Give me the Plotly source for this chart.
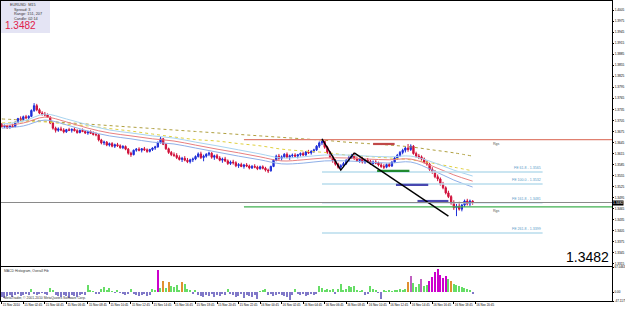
import plotly.graph_objects as go

# ---------------- data (prices in pips: 13482 -> 1.3482) ----------------
time_tick_bars = [0, 8, 16, 24, 32, 40, 48, 56, 64, 72, 80, 88, 96, 104, 112, 120, 128, 136, 144, 152, 160, 168, 176]
time_tick_labels = ["15 Nov 2010", "15 Nov 02:45", "15 Nov 04:45", "15 Nov 06:45", "15 Nov 08:45", "15 Nov 10:45",
                    "15 Nov 12:45", "15 Nov 14:45", "15 Nov 16:45", "15 Nov 18:45", "15 Nov 20:45", "15 Nov 22:45",
                    "16 Nov 00:45", "16 Nov 02:45", "16 Nov 04:45", "16 Nov 06:45", "16 Nov 08:45", "16 Nov 10:45",
                    "16 Nov 12:45", "16 Nov 14:45", "16 Nov 16:45", "16 Nov 18:45", "16 Nov 20:45"]

open_pips = [
    13695, 13688, 13690, 13685, 13690, 13688, 13700, 13710, 13707, 13715,
    13712, 13716, 13732, 13745, 13734, 13725, 13722, 13720, 13714, 13698,
    13684, 13678, 13682, 13679, 13674, 13680, 13678, 13681, 13677, 13672,
    13678, 13675, 13671, 13674, 13670, 13667, 13666, 13652, 13644, 13646,
    13638, 13642, 13635, 13639, 13636, 13631, 13634, 13627, 13616, 13612,
    13624, 13627, 13624, 13628, 13625, 13621, 13626, 13630, 13633, 13645,
    13655, 13640, 13628, 13618, 13612, 13610, 13604, 13599, 13602, 13597,
    13593, 13598, 13600, 13607, 13614, 13604, 13608, 13613, 13616, 13605,
    13609, 13603, 13597, 13600, 13595, 13588, 13592, 13590, 13582, 13585,
    13580, 13584, 13581, 13576, 13580, 13578, 13574, 13579, 13575, 13570,
    13568, 13580, 13597, 13608, 13602, 13606, 13613, 13605, 13609, 13611,
    13608, 13612, 13615, 13611, 13619, 13617, 13621, 13625, 13635, 13644,
    13648, 13632, 13618, 13606, 13596, 13586, 13578, 13582, 13588, 13596,
    13604, 13610, 13601, 13596, 13600, 13592, 13597, 13594, 13588, 13592,
    13589, 13584, 13580, 13578, 13585, 13581, 13592, 13603, 13610, 13618,
    13624, 13630, 13626, 13635, 13615, 13608, 13606, 13600, 13592, 13586,
    13572, 13566, 13552, 13546, 13532, 13522, 13508, 13498, 13480, 13468,
    13472, 13464, 13475, 13486, 13478, 13486]
high_pips = [
    13698, 13694, 13693, 13692, 13696, 13702, 13712, 13716, 13718, 13720,
    13719, 13735, 13752, 13750, 13738, 13730, 13728, 13724, 13716, 13700,
    13688, 13686, 13688, 13684, 13682, 13685, 13683, 13686, 13681, 13680,
    13683, 13679, 13677, 13678, 13675, 13672, 13668, 13655, 13650, 13649,
    13645, 13646, 13642, 13644, 13640, 13638, 13637, 13630, 13620, 13626,
    13630, 13632, 13630, 13633, 13629, 13628, 13632, 13636, 13648, 13660,
    13657, 13643, 13631, 13622, 13618, 13616, 13610, 13606, 13608, 13603,
    13601, 13604, 13610, 13618, 13620, 13612, 13616, 13620, 13619, 13612,
    13614, 13608, 13604, 13606, 13599, 13596, 13598, 13594, 13589, 13590,
    13587, 13589, 13585, 13584, 13586, 13582, 13582, 13583, 13579, 13574,
    13582, 13600, 13612, 13614, 13610, 13616, 13618, 13612, 13615, 13616,
    13614, 13618, 13620, 13622, 13625, 13624, 13628, 13638, 13648, 13655,
    13650, 13636, 13622, 13610, 13600, 13590, 13586, 13592, 13600, 13608,
    13614, 13617, 13607, 13604, 13606, 13600, 13603, 13598, 13596, 13597,
    13593, 13590, 13586, 13588, 13590, 13594, 13606, 13614, 13622, 13628,
    13634, 13641, 13640, 13638, 13620, 13614, 13610, 13604, 13596, 13590,
    13578, 13570, 13558, 13550, 13538, 13526, 13514, 13502, 13488, 13478,
    13484, 13478, 13490, 13492, 13490, 13488]
low_pips = [
    13686, 13684, 13682, 13683, 13686, 13687, 13698, 13704, 13705, 13709,
    13708, 13714, 13728, 13730, 13722, 13718, 13716, 13712, 13695, 13680,
    13672, 13674, 13676, 13670, 13671, 13676, 13672, 13675, 13669, 13670,
    13673, 13668, 13666, 13668, 13664, 13662, 13648, 13640, 13638, 13635,
    13634, 13632, 13630, 13633, 13628, 13627, 13624, 13612, 13606, 13610,
    13620, 13621, 13618, 13622, 13617, 13618, 13622, 13625, 13631, 13642,
    13638, 13625, 13614, 13608, 13606, 13600, 13596, 13592, 13594, 13589,
    13588, 13592, 13597, 13604, 13600, 13594, 13604, 13608, 13601, 13598,
    13600, 13594, 13590, 13592, 13584, 13584, 13585, 13578, 13576, 13578,
    13574, 13578, 13572, 13573, 13575, 13570, 13571, 13572, 13566, 13562,
    13566, 13578, 13594, 13598, 13596, 13603, 13602, 13598, 13604, 13605,
    13602, 13607, 13608, 13609, 13614, 13612, 13617, 13622, 13630, 13638,
    13628, 13614, 13602, 13590, 13582, 13574, 13570, 13578, 13584, 13592,
    13600, 13598, 13592, 13590, 13588, 13587, 13590, 13584, 13585, 13586,
    13580, 13576, 13573, 13575, 13578, 13579, 13590, 13598, 13606, 13613,
    13618, 13620, 13622, 13612, 13604, 13600, 13596, 13588, 13582, 13568,
    13560, 13548, 13540, 13528, 13518, 13504, 13494, 13476, 13462, 13445,
    13460, 13458, 13470, 13474, 13472, 13476]
close_pips = [
    13688, 13690, 13685, 13690, 13688, 13700, 13710, 13707, 13715, 13712,
    13716, 13732, 13745, 13734, 13725, 13722, 13720, 13714, 13698, 13684,
    13678, 13682, 13679, 13674, 13680, 13678, 13681, 13677, 13672, 13678,
    13675, 13671, 13674, 13670, 13667, 13666, 13652, 13644, 13646, 13638,
    13642, 13635, 13639, 13636, 13631, 13634, 13627, 13616, 13612, 13624,
    13627, 13624, 13628, 13625, 13621, 13626, 13630, 13633, 13645, 13655,
    13640, 13628, 13618, 13612, 13610, 13604, 13599, 13602, 13597, 13593,
    13598, 13600, 13607, 13614, 13604, 13608, 13613, 13616, 13605, 13609,
    13603, 13597, 13600, 13595, 13588, 13592, 13590, 13582, 13585, 13580,
    13584, 13581, 13576, 13580, 13578, 13574, 13579, 13575, 13570, 13568,
    13580, 13597, 13608, 13602, 13606, 13613, 13605, 13609, 13611, 13608,
    13612, 13615, 13611, 13619, 13617, 13621, 13625, 13635, 13644, 13648,
    13632, 13618, 13606, 13596, 13586, 13578, 13582, 13588, 13596, 13604,
    13610, 13601, 13596, 13600, 13592, 13597, 13594, 13588, 13592, 13589,
    13584, 13580, 13578, 13585, 13581, 13592, 13603, 13610, 13618, 13624,
    13630, 13626, 13635, 13615, 13608, 13606, 13600, 13592, 13586, 13572,
    13566, 13552, 13546, 13532, 13522, 13508, 13498, 13480, 13468, 13472,
    13464, 13475, 13486, 13478, 13486, 13482]

# moving averages, sampled every 8 bars
ma_bars = [0, 8, 16, 24, 32, 40, 48, 56, 64, 72, 80, 88, 96, 104, 112, 120, 128, 136, 144, 152, 160, 168, 175]
ma_slow_olive = [13709, 13706, 13703, 13699, 13695, 13691, 13687, 13683, 13679, 13675, 13671, 13667,
                 13663, 13659, 13655, 13651, 13646, 13642, 13638, 13633, 13625, 13617, 13608]
ma_mid_yellow = [13698, 13701, 13701, 13695, 13690, 13683, 13676, 13668, 13660, 13653, 13649, 13642,
                 13636, 13627, 13622, 13618, 13611, 13607, 13603, 13598, 13589, 13578, 13568]
ma_fast_blue = [13695, 13703, 13722, 13709, 13693, 13679, 13671, 13663, 13657, 13646, 13636, 13625,
                13614, 13603, 13606, 13611, 13611, 13608, 13606, 13608, 13592, 13570, 13554]
ma_fast_red = [13690, 13698, 13714, 13701, 13684, 13671, 13663, 13655, 13649, 13638, 13627, 13617,
               13606, 13595, 13598, 13603, 13603, 13600, 13598, 13600, 13581, 13557, 13540]
ma_fast_steel = [13684, 13690, 13706, 13693, 13676, 13663, 13655, 13646, 13641, 13630, 13619, 13608,
                 13598, 13587, 13589, 13595, 13595, 13592, 13589, 13592, 13570, 13543, 13524]

# price axis ticks
price_ticks = [14005, 13975, 13945, 13915, 13885, 13855, 13825, 13795, 13765, 13735, 13705, 13675,
               13645, 13615, 13585, 13555, 13525, 13495, 13465, 13435, 13405, 13375, 13345, 13315]
price_now = 13482

# levels
rgs_levels = [13653, 13470]
rgs_start_bar = 90
fib_names = ["FE 61.8", "FE 100.0", "FE 161.8", "FE 261.8"]
fib_levels = [13565, 13532, 13481, 13399]
fib_start_bar, fib_end_bar = 119, 201
zigzag_bars = [119, 126, 131]
zigzag_pips = [13655, 13570, 13617]
trend_bars = [131, 166]
trend_pips = [13617, 13445]
seg_bars = [(138, 146), (139.5, 151.5), (146.5, 158.5), (154.5, 166)]
seg_pips = [13641, 13568, 13530, 13486]

# MACD histogram
hist_vals = [-5, -6, -4, -3, -5, -3, -2, -4, -3, -2, -3,
             3,
             -2, -3, -2, -1, -2, -3,
             4, 2,
             -3, -4, -5, -3, -4, -6, -3, -4, -5, -3, -2, -3,
             7, 2, 1,
             -2, -2,
             3, 5, 2, 4,
             1, -1, 2, -1,
             -2, -3, -2,
             3,
             -2, -3, -4, -3, -2, -4, -3,
             3, 2,
             22, 4, 11, 4, 10,
             6, 5, 7, 2,
             10, 8, 3, 2,
             -2, 2,
             -3, -4, -5, -3, -4, -2, -5, -3, -4, -2, -3,
             3, -2,
             -3, -5, -4, -2, -6, -3, -4, -5, -3, -7,
             1, 2, 3,
             -3, -2, -4, -3, -2, -3, -4, -5, -8, -3,
             3,
             -2, -3, -2, -4, -3, -2, -3, -2,
             6, 4, 2, 3, 2, 3,
             -2,
             3, 8, 2, 3, 6, 5, 6, 2, 1, 2,
             -3, -2,
             6, 3, 2,
             -1, -7,
             2, 1, 2, 1, 2, 2, 3, 2, 3,
             10, 16, 9, 5, 8, 13, 6, 7,
             11, 15, 20, 23, 17, 14, 16,
             13, 11, 8, 7, 6, 5, 4, 3, 2,
             -2]
hist_special = {58: "#cc00cc", 60: "#e09030", 62: "#e09030", 67: "#e09030", 151: "#e09030",
                152: "#c060c0", 156: "#c060c0", 159: "#cc00cc", 160: "#cc00cc", 161: "#cc00cc",
                162: "#cc00cc", 163: "#cc00cc", 164: "#cc00cc", 165: "#cc00cc", 167: "#e09030"}
macd_tick_vals = [25, 0, -9]
macd_tick_text = ["67.0463", "0.00", "-47.1175"]

# ---------------- figure ----------------
P = 1e4
bars = list(range(len(close_pips)))
XMIN, XMAX = -0.3, 226.8
W, H = 625, 309
ML, MR, MT, MB = 1, 13, 1, 8
PW, PH = W - ML - MR, H - MT - MB


def pxx(px):
    return (px - ML) / PW


def pxy(py):
    return (H - MB - py) / PH


def px_price(py):
    return (14032.2 - 2.717 * py) / P


main_dom = [pxy(266), 1.0]
macd_dom = [0.0, pxy(267)]
font_fam = "Liberation Sans, Arial, sans-serif"

fig = go.Figure()
fig.add_trace(go.Candlestick(
    x=bars, open=[v / P for v in open_pips], high=[v / P for v in high_pips],
    low=[v / P for v in low_pips], close=[v / P for v in close_pips],
    increasing=dict(line=dict(color="#1f2fd8", width=1), fillcolor="#1f2fd8"),
    decreasing=dict(line=dict(color="#d0103a", width=1), fillcolor="#d0103a"),
    whiskerwidth=0, xaxis="x", yaxis="y", showlegend=False, hoverinfo="skip"))

for vals, col, dash in [(ma_slow_olive, "#b0a040", "dot"), (ma_mid_yellow, "#e0d040", "dot"),
                        (ma_fast_steel, "#8fb0e8", "solid"), (ma_fast_red, "#e88080", "solid"),
                        (ma_fast_blue, "#a8d4f0", "solid")]:
    fig.add_trace(go.Scatter(x=ma_bars, y=[v / P for v in vals], mode="lines",
                             line=dict(color=col, width=1, dash=dash, shape="spline"),
                             xaxis="x", yaxis="y", showlegend=False, hoverinfo="skip"))

# fib expansion levels
for name, lv in zip(fib_names, fib_levels):
    fig.add_trace(go.Scatter(x=[fib_start_bar, fib_end_bar], y=[lv / P, lv / P], mode="lines",
                             line=dict(color="#b8dcec", width=1.5), xaxis="x", yaxis="y",
                             showlegend=False, hoverinfo="skip"))
    fig.add_annotation(x=fib_end_bar, y=lv / P, xref="x", yref="y", text=f"{name} - {lv / P:.4f}",
                       showarrow=False, xanchor="right", yanchor="bottom", yshift=0,
                       font=dict(size=3.6, color="#5a9cc8", family=font_fam))

# resistance / support lines
for lv, col in zip(rgs_levels, ["#e08070", "#40b050"]):
    fig.add_trace(go.Scatter(x=[rgs_start_bar, XMAX], y=[lv / P, lv / P], mode="lines",
                             line=dict(color=col, width=1.3), xaxis="x", yaxis="y",
                             showlegend=False, hoverinfo="skip"))
    fig.add_annotation(x=182, y=lv / P, xref="x", yref="y", text="Rgs", showarrow=False,
                       xanchor="left", yanchor="top", yshift=-0.5,
                       font=dict(size=3.6, color="#555555", family=font_fam))

# short marker segments
for (b0, b1), lv, col in zip(seg_bars, seg_pips, ["#c04848", "#208a30", "#4848b0", "#4848b0"]):
    fig.add_trace(go.Scatter(x=[b0, b1], y=[lv / P, lv / P], mode="lines",
                             line=dict(color=col, width=2.2), xaxis="x", yaxis="y",
                             showlegend=False, hoverinfo="skip"))

# zigzag and trend line
fig.add_trace(go.Scatter(x=zigzag_bars, y=[v / P for v in zigzag_pips], mode="lines",
                         line=dict(color="#000000", width=1.4), xaxis="x", yaxis="y",
                         showlegend=False, hoverinfo="skip"))
fig.add_trace(go.Scatter(x=trend_bars, y=[v / P for v in trend_pips], mode="lines",
                         line=dict(color="#000000", width=1.4), xaxis="x", yaxis="y",
                         showlegend=False, hoverinfo="skip"))

# MACD histogram
hist_colors = [hist_special.get(i, "#66dd66" if v > 0 else "#8078c8") for i, v in enumerate(hist_vals)]
fig.add_trace(go.Bar(x=bars, y=hist_vals, marker=dict(color=hist_colors, line=dict(width=0)),
                     width=0.45, xaxis="x2", yaxis="y2", showlegend=False, hoverinfo="skip"))

# current price line + tag
fig.add_shape(type="line", xref="x domain", yref="y", x0=0, x1=1, y0=price_now / P, y1=price_now / P,
              line=dict(color="#8a8a8a", width=1.2))
fig.add_annotation(xref="x domain", yref="y", x=1.0, y=price_now / P, text=f"{price_now / P:.4f}",
                   showarrow=False, xanchor="left", yanchor="middle", xshift=0, bgcolor="#000000",
                   borderpad=0, font=dict(size=3.3, color="#ffffff", family=font_fam))

# info box
fig.add_shape(type="rect", xref="paper", yref="paper", x0=pxx(0), x1=pxx(50), y0=pxy(33), y1=pxy(0),
              fillcolor="#e4e4f4", line=dict(width=0), layer="below")
info_lines = [("EURUSD  M15", 8, 4.5), ("Spread: 3", 12, 9.7), ("Range: 151, 207", 12, 14.3),
              ("Candle: 02:14", 12, 18.8)]
for txt, ix, iy in info_lines:
    fig.add_annotation(xref="paper", yref="paper", x=pxx(ix), y=pxy(iy), text=txt, showarrow=False,
                       xanchor="left", yanchor="middle", font=dict(size=3.8, color="#333333", family=font_fam))
fig.add_annotation(xref="paper", yref="paper", x=pxx(3), y=pxy(25.5), text=f"{price_now / P:.4f}",
                   showarrow=False, xanchor="left", yanchor="middle",
                   font=dict(size=10, color="#e0204a", family=font_fam))

# big price bottom right
fig.add_annotation(xref="paper", yref="paper", x=pxx(611), y=pxy(256.5), text=f"{price_now / P:.4f}",
                   showarrow=False, xanchor="right", yanchor="middle",
                   font=dict(size=14, color="#000000", family=font_fam))

# MACD labels
fig.add_annotation(xref="paper", yref="paper", x=pxx(2), y=pxy(271), text="MACD Histogram, Overall Fib",
                   showarrow=False, xanchor="left", yanchor="middle",
                   font=dict(size=3.4, color="#333333", family=font_fam))
fig.add_annotation(xref="paper", yref="paper", x=pxx(2), y=pxy(298), text="MetaTrader, © 2001-2010 MetaQuotes Software Corp.",
                   showarrow=False, xanchor="left", yanchor="middle",
                   font=dict(size=3.4, color="#333333", family=font_fam))

axis_common = dict(showgrid=False, zeroline=False, showline=True, linecolor="#000000", linewidth=1,
                   mirror=True, automargin=False)
fig.update_layout(
    width=W, height=H, margin=dict(l=ML, r=MR, t=MT, b=MB),
    paper_bgcolor="#ffffff", plot_bgcolor="#ffffff", bargap=0,
    xaxis=dict(domain=[0, 1], range=[XMIN, XMAX], anchor="y", showticklabels=False, ticks="",
               rangeslider=dict(visible=False), **axis_common),
    yaxis=dict(domain=main_dom, range=[px_price(266), px_price(1)],
               side="right", anchor="x", tickvals=[v / P for v in price_ticks],
               ticktext=[f"{v / P:.4f}" for v in price_ticks], ticks="outside", ticklen=1, tickcolor="#000",
               ticklabelstandoff=0,
               tickfont=dict(size=3.2, color="#000000", family=font_fam), **axis_common),
    xaxis2=dict(domain=[0, 1], range=[XMIN, XMAX], anchor="y2", tickvals=time_tick_bars,
                ticktext=time_tick_labels, ticks="outside", ticklen=2, tickcolor="#000",
                ticklabelposition="outside right", tickangle=0, ticklabelstandoff=0,
                tickfont=dict(size=3.0, color="#000000", family=font_fam), **axis_common),
    yaxis2=dict(domain=macd_dom, range=[-9, 25], side="right", anchor="x2", tickvals=macd_tick_vals,
                ticktext=macd_tick_text, ticks="outside", ticklen=1, tickcolor="#000", ticklabelstandoff=0,
                tickfont=dict(size=3.0, color="#000000", family=font_fam), **axis_common),
)
fig.write_html("out.html", config={"displayModeBar": False})
